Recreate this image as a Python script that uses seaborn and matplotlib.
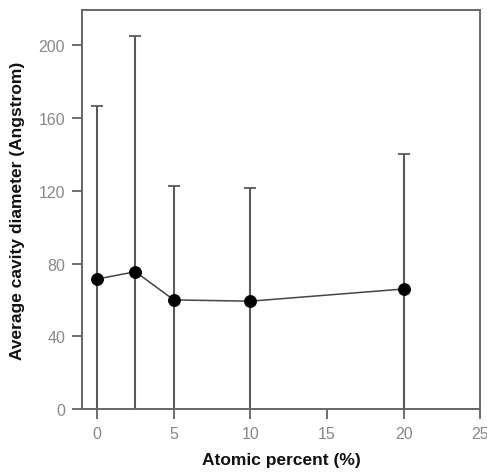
import matplotlib
matplotlib.use("Agg")
import matplotlib.pyplot as plt
import seaborn as sns
import pandas as pd

atomic_percent = [0, 2.5, 5, 10, 20]
cavity_diameter = [71.5, 75.5, 60, 59.3, 66]
error_upper = [95, 129.5, 62.5, 62, 74]

x_ticks = [0, 5, 10, 15, 20, 25]
y_ticks = [0, 40, 80, 120, 160, 200]

sns.set_style("ticks")
plt.rcParams['font.family'] = ['Liberation Sans', 'DejaVu Sans']

df = pd.DataFrame({"x": atomic_percent, "y": cavity_diameter, "e": error_upper})

fig = plt.figure(figsize=(4.87, 4.77), dpi=100)
ax = fig.add_axes([0.168, 0.1405, 0.818, 0.8365])

ax.errorbar(df["x"], df["y"], yerr=df["e"], fmt="none", ecolor="#5a5a5a",
            elinewidth=1.5, capsize=4.5, capthick=1.3, zorder=1)
sns.lineplot(data=df, x="x", y="y", ax=ax, color="#444444", linewidth=1.1,
             marker="o", markersize=8.5, markerfacecolor="black",
             markeredgecolor="black", zorder=3)

ax.set_xlim(-1, 25)
ax.set_ylim(0, 219.5)
ax.set_xticks(x_ticks)
ax.set_yticks(y_ticks)
ax.tick_params(axis="both", direction="out", length=7, width=1.2,
               color="#555555", labelcolor="#888888", labelsize=11.5, pad=5)
for s in ax.spines.values():
    s.set_color("#666666")
    s.set_linewidth(1.4)
    s.set_visible(True)

ax.set_xlabel("Atomic percent (%)", fontsize=12.5, fontweight="bold", color="#111111", labelpad=8)
ax.set_ylabel("Average cavity diameter (Angstrom)", fontsize=12.5, fontweight="bold", color="#111111", labelpad=10)

fig.savefig("out.png", dpi=100)
